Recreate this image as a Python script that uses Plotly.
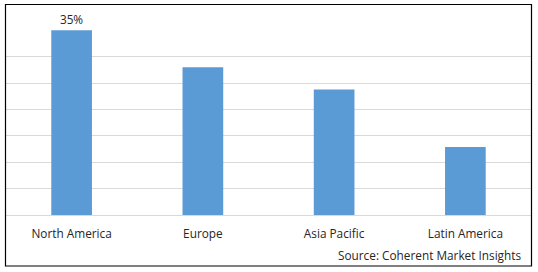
import plotly.graph_objects as go

regions = ["North America", "Europe", "Asia Pacific", "Latin America"]
shares = [35, 28, 23.8, 12.9]
labels = ["35%", "", "", ""]
source = "Source: Coherent Market Insights"

W, H = 538, 272
L, R, T, B = 6, 7, 30, 57
pw, ph = W - L - R, H - T - B
FS = 11.8

def px_x(x):
    return (x - L) / pw

def px_y(y):
    return (H - B - y) / ph

fig = go.Figure(go.Bar(
    x=regions, y=shares, text=labels, textposition="outside",
    textfont=dict(size=FS, color="#262626"),
    marker=dict(color="#5B9BD5", line=dict(width=0)),
    width=0.31, cliponaxis=False,
))

fig.update_layout(
    width=W, height=H,
    margin=dict(l=L, r=R, t=T, b=B),
    paper_bgcolor="white", plot_bgcolor="white",
    font=dict(family="Open Sans, DejaVu Sans, sans-serif", size=FS, color="#262626"),
    showlegend=False,
    bargap=0.69,
    xaxis=dict(showgrid=False, showline=False, ticks="", ticklabelstandoff=10,
               tickfont=dict(size=FS, color="#262626")),
    yaxis=dict(range=[0, 35.05], dtick=5, showgrid=True, gridcolor="#d9d9d9",
               gridwidth=1, showticklabels=False, zeroline=True,
               zerolinecolor="#d9d9d9", zerolinewidth=1, showline=False),
    shapes=[dict(type="rect", xref="paper", yref="paper",
                 x0=px_x(5.5), x1=px_x(531.5), y0=px_y(266), y1=px_y(4.5),
                 line=dict(color="black", width=1.2))],
    annotations=[dict(text=source, xref="paper", yref="paper",
                      x=px_x(523), y=px_y(255), xanchor="right", yanchor="middle",
                      showarrow=False, font=dict(size=FS, color="#262626"))],
)

fig.write_html("out.html")
